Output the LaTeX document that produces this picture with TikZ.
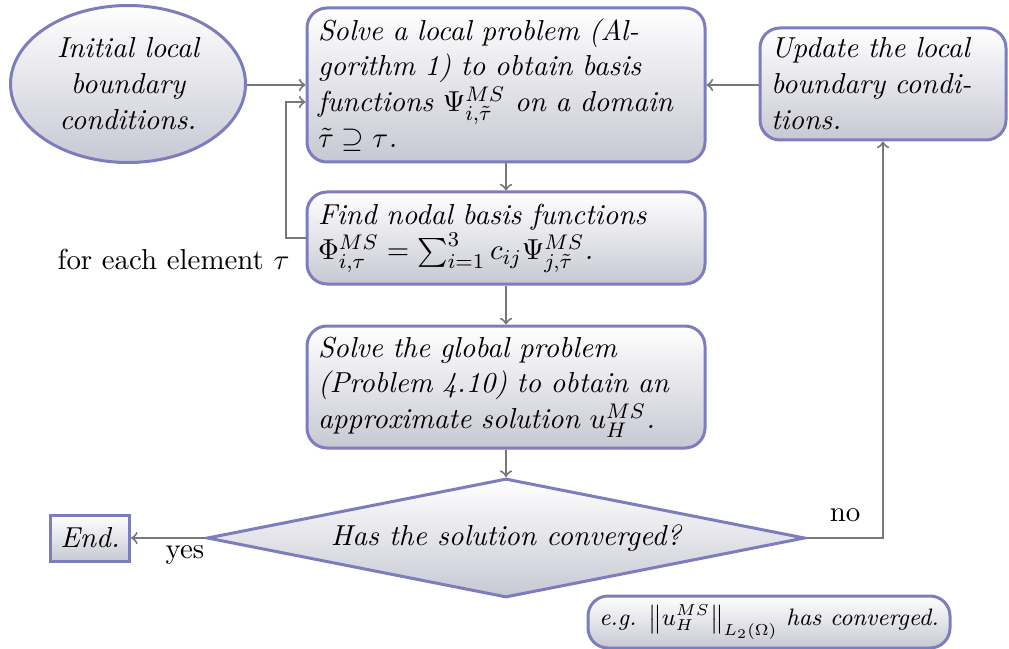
\documentclass[11pt,tikz,border=0pt]{standalone}
\usepackage{amsmath,amssymb}
\usetikzlibrary{shapes.geometric,arrows}
\definecolor{bordc}{RGB}{125,125,190}
\definecolor{botc}{RGB}{200,200,212}
\definecolor{connc}{RGB}{120,120,120}
\newdimen\pxu \pxu=0.379pt
\tikzset{
  boxbase/.style={draw=bordc, line width=3\pxu, top color=white, bottom color=botc, font=\itshape},
  procbox/.style={boxbase, rectangle, rounded corners=20\pxu, align=left, text width=376\pxu, inner xsep=11\pxu, inner ysep=4\pxu},
  conn/.style={draw=connc, line width=2\pxu, ->, >=to},
}
\begin{document}
\begin{tikzpicture}[x=0.379pt, y=-0.379pt]
\useasboundingbox (0,0) rectangle (1009,649);

\node[boxbase, ellipse, minimum width=235\pxu, minimum height=157\pxu, inner sep=0pt, align=center] (init) at (128,84)
  {Initial local\\boundary\\conditions.};

\node[procbox, minimum height=154\pxu] (local) at (506,85)
  {Solve a local problem (Al-\\gorithm 1) to obtain basis\\functions $\Psi^{MS}_{i,\tilde{\tau}}$ on a domain\\$\tilde{\tau}\supseteq\tau$.};

\node[procbox, minimum height=92\pxu] (nodal) at (506,238)
  {Find nodal basis functions\\$\Phi^{MS}_{i,\tau}=\sum_{i=1}^{3} c_{ij}\Psi^{MS}_{j,\tilde{\tau}}$.};

\node[procbox, minimum height=122\pxu] (global) at (506,387)
  {Solve the global problem\\(Problem 4.10) to obtain an\\approximate solution $u^{MS}_{H}$.};

\node[boxbase, diamond, shape aspect=5.03, minimum width=598\pxu, minimum height=119\pxu, inner sep=0pt] (conv) at (506,538)
  {Has the solution converged?};

\node[boxbase, rectangle, minimum width=79\pxu, minimum height=46\pxu, inner sep=2pt] (end) at (90,538) {End.};

\node[boxbase, rectangle, rounded corners=20\pxu, align=left, text width=224\pxu, inner xsep=11\pxu, inner ysep=4\pxu, minimum height=112\pxu] (upd) at (883,84)
  {Update the local\\boundary condi-\\tions.};

\node[boxbase, rectangle, rounded corners=20\pxu, minimum width=362\pxu, minimum height=52\pxu, inner sep=2pt, font=\footnotesize\itshape] (note) at (769,622)
  {e.g. $\left\|u^{MS}_{H}\right\|_{L_2(\Omega)}$ has converged.};

\draw[conn] (init.east |- local.west) -- (local.west);
\draw[conn] (nodal.west) -- ([xshift=-20\pxu]nodal.west) |- ([yshift=-17\pxu]local.west);
\node[anchor=base east, inner sep=0pt] (lbl) at (290,270) {for each element $\tau$};
\draw[conn] (local.south) -- (nodal.north);
\draw[conn] (nodal.south) -- (global.north);
\draw[conn] (global.south) -- (conv.north);
\draw[conn] (conv.west) -- (end.east);
\node (yes) at (185,555) {yes};
\draw[conn] (conv.east) -| (upd.south);
\node (no) at (845,515) {no};
\draw[conn] (upd.west |- local.east) -- (local.east);
\end{tikzpicture}
\end{document}
